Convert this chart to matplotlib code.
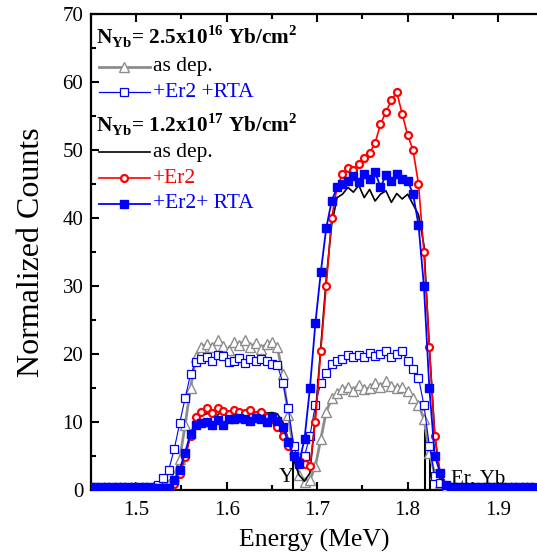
import numpy as np
import matplotlib
matplotlib.use("Agg")
import matplotlib.pyplot as plt
from matplotlib.ticker import MultipleLocator
from matplotlib.lines import Line2D

plt.rcParams['font.family'] = ['Liberation Serif', 'DejaVu Serif']
plt.rcParams['mathtext.fontset'] = 'custom'
plt.rcParams['mathtext.rm'] = 'Liberation Serif'
plt.rcParams['mathtext.bf'] = 'Liberation Serif:bold'

# Energy grid (MeV)
energy = [round(1.452 + 0.006 * k, 3) for k in range(82)]

# N_Yb = 2.5e16, as deposited (gray triangles)
low_asdep = [0.5]*13 + [0.6, 0.9, 2.0, 4.6, 9.5, 15.0, 19.5, 21.0,
    21.5, 21.0, 22.0, 21.2, 20.6, 21.8, 21.3, 22.0, 21.0, 21.6, 20.8, 21.5, 21.8, 21.0,
    17.0, 11.0, 6.0, 2.2, 1.2, 1.5, 3.5, 7.5, 11.5, 13.5, 14.3, 14.8, 15.2, 14.6, 15.5,
    14.8, 15.0, 15.8, 15.2, 16.0, 15.3, 15.0, 15.2, 14.5, 13.5, 12.5, 10.5, 5.5, 2.3, 1.0] + [0.5]*17

# N_Yb = 2.5e16, +Er2 +RTA (blue open squares)
low_rta = [0.5]*12 + [0.8, 1.8, 3.0, 6.0, 9.8, 13.5, 17.0, 18.8, 19.3,
    19.6, 19.0, 19.8, 19.7, 18.8, 19.0, 19.4, 18.7, 19.2, 18.9, 19.3, 19.0, 18.6, 18.4,
    15.8, 12.0, 6.5, 3.8, 5.0, 8.0, 12.5, 15.8, 17.2, 18.5, 19.0, 19.3, 19.8, 19.5, 19.9,
    19.6, 20.2, 19.7, 20.0, 20.4, 19.6, 20.0, 20.4, 19.0, 17.8, 16.5, 12.5, 6.5, 2.0, 1.0] + [0.5]*17

# N_Yb = 1.2e17, as deposited (black line)
high_asdep = [0.3]*15 + [0.8, 2.5, 5.0, 8.0, 10.3, 11.0,
    11.2, 11.6, 11.0, 11.8, 11.2, 11.5, 11.9, 11.3, 11.6, 11.0, 11.7, 11.3, 11.4, 11.2,
    10.0, 7.5, 4.5, 2.2, 1.3, 2.5, 11.0, 21.0, 31.0, 39.0, 43.0, 43.5, 44.5, 43.8, 44.8,
    43.0, 44.2, 42.5, 43.5, 44.0, 42.3, 43.6, 42.8, 43.5, 42.0, 40.5, 36.0, 21.0, 8.0, 2.0, 0.5] + [0.3]*16

# N_Yb = 1.2e17, +Er2 (red circles)
high_er = [0.3]*15 + [0.9, 2.3, 4.8, 8.0, 10.8, 11.5,
    12.0, 11.3, 12.0, 11.6, 11.2, 11.8, 11.5, 11.3, 11.8, 11.0, 11.4, 10.8, 10.5, 9.3,
    8.0, 6.5, 5.0, 4.2, 3.8, 3.5, 10.0, 20.5, 30.0, 40.0, 44.5, 46.5, 47.3, 47.0, 48.0,
    48.8, 49.6, 51.0, 53.8, 55.6, 57.3, 58.5, 55.3, 52.2, 50.0, 45.0, 35.0, 21.0, 8.0, 2.5, 0.8] + [0.3]*16

# N_Yb = 1.2e17, +Er2 +RTA (blue filled squares)
high_rta = [0.3]*15 + [1.5, 3.0, 5.5, 8.3, 9.5, 9.8,
    10.0, 9.6, 10.3, 9.5, 10.5, 10.4, 10.6, 10.5, 10.2, 10.6, 10.4, 10.0, 10.7, 10.2,
    9.3, 7.0, 5.0, 4.0, 7.5, 15.0, 24.5, 32.0, 38.5, 42.5, 44.5, 45.0, 45.5, 46.2, 45.3,
    46.5, 45.8, 46.8, 44.5, 46.3, 45.5, 46.5, 45.8, 45.5, 43.5, 39.0, 30.0, 15.0, 5.0, 2.5, 0.8] + [0.3]*16

# Surface-edge markers
edge_energy = [1.673, 1.819, 1.825]
edge_height = [4.7, 9.0, 7.0]

fig = plt.figure(figsize=(5.37, 5.54), dpi=100)
ax = fig.add_axes([91/537, 64/554, 446/537, 476/554])

gray = '#8c8c8c'
blue = '#0000ff'
red = '#ff0000'

ax.vlines(edge_energy, 0, edge_height, colors='black', lw=1.5, zorder=1)

ax.plot(energy, low_asdep, color=gray, lw=2.0, marker='^', ms=6.5, mfc='white',
        mec=gray, mew=1.0, zorder=3)
ax.plot(energy, low_rta, color=blue, lw=0.8, marker='s', ms=5.2, mfc='white',
        mec=blue, mew=0.9, zorder=3)
ax.plot(energy, high_asdep, color='black', lw=1.2, zorder=4)
ax.plot(energy, high_er, color=red, lw=1.2, marker='o', ms=5.0, mfc='white',
        mec=red, mew=1.6, zorder=4)
ax.plot(energy, high_rta, color=blue, lw=1.3, marker='s', ms=5.5, mfc=blue,
        mec=blue, zorder=5)

ax.set_xlim(1.45, 1.943)
ax.set_ylim(0, 70)
ax.xaxis.set_major_locator(MultipleLocator(0.1))
ax.xaxis.set_minor_locator(MultipleLocator(0.05))
ax.yaxis.set_major_locator(MultipleLocator(10))
ax.yaxis.set_minor_locator(MultipleLocator(5))
ax.tick_params(which='both', direction='in', top=True, right=False, width=1.5, labelsize=15)
ax.tick_params(which='major', length=6)
ax.tick_params(which='minor', length=3.5)
ax.tick_params(axis='x', which='major', pad=8)
ax.tick_params(axis='y', which='major', pad=5.5)
ax.xaxis.set_major_formatter(matplotlib.ticker.FuncFormatter(lambda v, p: f"{v:.1f}"))
for s in ['left', 'bottom', 'top']:
    ax.spines[s].set_linewidth(1.6)
ax.spines['right'].set_visible(False)

ax.set_xlabel('Energy (MeV)', fontsize=18.5, labelpad=6)
ax.set_ylabel('Normalized Counts', fontsize=23, labelpad=12)

ax.text(1.657, 1.2, 'Y', fontsize=15)
ax.text(1.848, 0.9, 'Er, Yb', fontsize=15)

# Legend drawn manually
def legrow(y, color, lw, marker, mfc, ms, mew, label, tcolor):
    ln = Line2D([0.018, 0.132], [y, y], transform=ax.transAxes, color=color, lw=lw)
    ax.add_line(ln)
    if marker:
        mk = Line2D([0.075], [y], transform=ax.transAxes, marker=marker, ms=ms,
                    mfc=mfc, mec=color, mew=mew, ls='none')
        ax.add_line(mk)
    ax.text(0.139, y, label, transform=ax.transAxes, fontsize=15.5, color=tcolor,
            va='center', ha='left')

ax.text(0.012, 0.952, r'N$_{\mathbf{Yb}}$= 2.5x10$^{\mathbf{16}}$ Yb/cm$^{\mathbf{2}}$',
        transform=ax.transAxes, fontsize=15.3, fontweight='bold', va='center', ha='left')
legrow(0.889, gray, 2.0, '^', 'white', 6.5, 1.0, 'as dep.', 'black')
legrow(0.836, blue, 0.9, 's', 'white', 5.2, 0.9, '+Er2 +RTA', blue)
ax.text(0.012, 0.767, r'N$_{\mathbf{Yb}}$= 1.2x10$^{\mathbf{17}}$ Yb/cm$^{\mathbf{2}}$',
        transform=ax.transAxes, fontsize=15.3, fontweight='bold', va='center', ha='left')
legrow(0.710, 'black', 1.2, None, None, 0, 0, 'as dep.', 'black')
legrow(0.655, red, 1.2, 'o', 'white', 5.0, 1.6, '+Er2', red)
legrow(0.601, blue, 1.3, 's', blue, 5.5, 1.0, '+Er2+ RTA', blue)

fig.savefig('out.png', dpi=100)
